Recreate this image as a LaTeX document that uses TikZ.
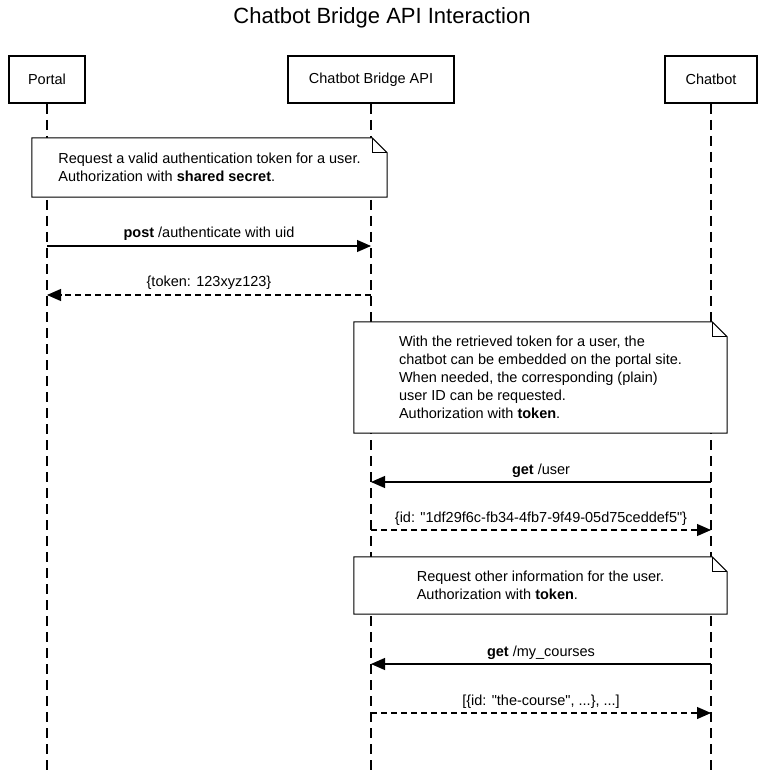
\documentclass[tikz,border=0pt]{standalone}
\usepackage{fontspec}
\setmainfont{Liberation Sans}
\newfontfamily\basef{Liberation Sans}
\usetikzlibrary{arrows.meta,backgrounds}
\newcommand\dogear[1]{%
  \draw[notebd,fill=white] (#1.north west) -- ([xshift=-15pt]#1.north east) -- ([yshift=-15pt]#1.north east) -- (#1.south east) -- (#1.south west) -- cycle;
  \draw[notebd] ([xshift=-15pt]#1.north east) |- ([yshift=-15pt]#1.north east);}
\begin{document}
\begin{tikzpicture}[x=1pt,y=-1pt,
  font=\basef\fontsize{14.5}{18}\selectfont,
  title/.style={font=\basef\fontsize{22}{26}\selectfont, inner sep=0},
  actor/.style={draw, line width=2pt, minimum height=47pt, inner sep=0},
  life/.style={line width=1.3pt, dash pattern=on 10pt off 6pt},
  note/.style={align=left, inner sep=0},
  notebd/.style={line width=1pt},
  msg/.style={line width=1.1pt, -{Triangle[length=14pt,width=12pt]}},
  reply/.style={msg, dash pattern=on 6pt off 4pt},
  lbl/.style={midway, anchor=base, yshift=8pt, inner sep=0}]
\useasboundingbox (0,0) rectangle (764,775);
\node[title] (title) at (382,18) {Chatbot Bridge API Interaction};
\node[actor, minimum width=76pt] (portal) at (47,79.5) {Portal};
\node[actor, minimum width=166pt] (api) at (371,79.5) {Chatbot Bridge API};
\node[actor, minimum width=92pt] (bot) at (711,79.5) {Chatbot};
\coordinate (portalend) at (47,776);
\coordinate (apiend) at (371,776);
\coordinate (botend) at (711,776);

\node[note, minimum width=355pt, minimum height=59pt] (n1) at (209.5,167.5)
  {Request a valid authentication token for a user.\\Authorization with \textbf{shared secret}.};
\node[note, minimum width=373pt, minimum height=111pt] (n2) at (540.5,377.5)
  {With the retrieved token for a user, the\\chatbot can be embedded on the portal site.\\When needed, the corresponding (plain)\\user ID can be requested.\\Authorization with \textbf{token}.};
\node[note, minimum width=373pt, minimum height=57pt] (n3) at (540.5,585.5)
  {Request other information for the user.\\Authorization with \textbf{token}.};

\begin{pgfonlayer}{background}
\draw[life] (portal.south) -- (portalend);
\draw[life] (api.south) -- (apiend);
\draw[life] (bot.south) -- (botend);
\dogear{n1}
\dogear{n2}
\dogear{n3}
\end{pgfonlayer}

\coordinate (p1) at (47,246);   \coordinate (a1) at (371,246);
\coordinate (p2) at (47,295);   \coordinate (a2) at (371,295);
\coordinate (a3) at (371,482);  \coordinate (b3) at (711,482);
\coordinate (a4) at (371,530);  \coordinate (b4) at (711,530);
\coordinate (a5) at (371,664);  \coordinate (b5) at (711,664);
\coordinate (a6) at (371,713);  \coordinate (b6) at (711,713);

\draw[msg] (p1) -- node[lbl] (l1) {\textbf{post} /authenticate with uid} (a1);
\draw[reply] (a2) -- node[lbl] (l2) {\{token: 123xyz123\}} (p2);
\draw[msg] (b3) -- node[lbl] (l3) {\textbf{get} /user} (a3);
\draw[reply] (a4) -- node[lbl] (l4) {\{id: "1df29f6c-fb34-4fb7-9f49-05d75ceddef5"\}} (b4);
\draw[msg] (b5) -- node[lbl] (l5) {\textbf{get} /my\_courses} (a5);
\draw[reply] (a6) -- node[lbl] (l6) {[\{id: "the-course", ...\}, ...]} (b6);
\end{tikzpicture}
\end{document}
